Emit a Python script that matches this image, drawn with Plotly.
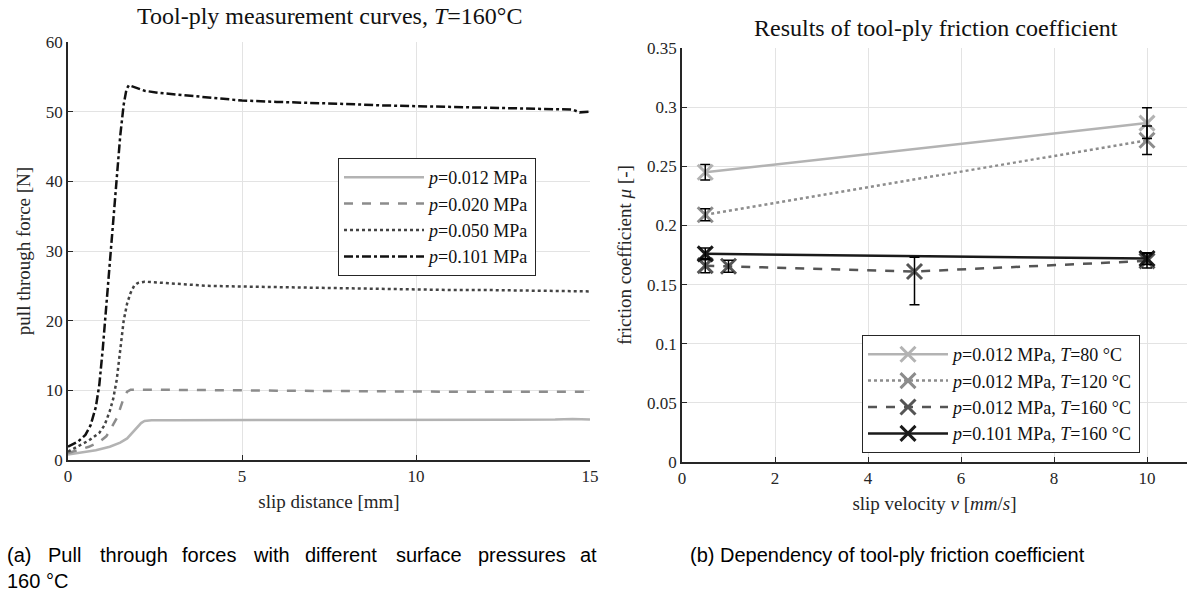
import plotly.graph_objects as go

W, H = 1187, 592

# ---------------- Left plot data: pull-through force vs slip distance ----------------
x_p012 = [0, 0.4, 0.8, 1.2, 1.5, 1.7, 1.85, 2.0, 2.1, 2.2, 2.4, 3, 4, 5, 6, 7, 8, 9, 10, 11, 12, 13, 14, 14.5, 15]
y_p012 = [0.8, 1.1, 1.4, 1.9, 2.5, 3.1, 3.9, 4.8, 5.3, 5.6, 5.7, 5.7, 5.75, 5.75, 5.75, 5.75, 5.75, 5.75, 5.75,
          5.75, 5.75, 5.75, 5.8, 5.9, 5.8]

x_p020 = [0, 0.3, 0.6, 0.9, 1.1, 1.2, 1.3, 1.4, 1.5, 1.6, 1.7, 1.8, 2, 3, 4, 5, 6, 7, 8, 9, 10, 11, 12, 13, 14, 15]
y_p020 = [1.0, 1.4, 1.9, 2.6, 3.4, 4.2, 5.0, 6.0, 7.4, 8.9, 9.8, 10.1, 10.1, 10.1, 10.0, 10.0, 9.95, 9.9, 9.9,
          9.85, 9.8, 9.8, 9.8, 9.75, 9.8, 9.8]

x_p050 = [0, 0.3, 0.6, 0.9, 1.05, 1.2, 1.3, 1.4, 1.5, 1.6, 1.7, 1.8, 1.9, 2.0, 2.2, 2.5, 3, 4, 5, 6, 7, 8, 9, 10,
          11, 12, 13, 14, 15]
y_p050 = [1.2, 2.0, 2.8, 3.9, 5.0, 7.0, 8.8, 11.5, 16, 20, 22.5, 24, 25, 25.4, 25.6, 25.5, 25.3, 25.0, 24.9, 24.8,
          24.7, 24.6, 24.5, 24.5, 24.4, 24.4, 24.3, 24.3, 24.2]

x_p101 = [0, 0.3, 0.5, 0.65, 0.8, 0.9, 1.0, 1.1, 1.2, 1.3, 1.4, 1.5, 1.6, 1.68, 1.75, 1.9, 2.2, 2.6, 3, 4, 5, 6,
          7, 8, 9, 10, 11, 12, 13, 14, 14.5, 14.7, 15]
y_p101 = [1.9, 2.7, 3.6, 5.0, 7.6, 10.8, 16, 22, 28.5, 35, 41, 46.5, 51, 53.2, 53.8, 53.5, 53.0, 52.7, 52.5,
          52.0, 51.6, 51.4, 51.3, 51.1, 50.9, 50.8, 50.7, 50.6, 50.5, 50.4, 50.3, 49.9, 50.0]

left_names = ["<i>p</i>=0.012 MPa", "<i>p</i>=0.020 MPa", "<i>p</i>=0.050 MPa", "<i>p</i>=0.101 MPa"]

# ---------------- Right plot data: friction coefficient vs slip velocity ----------------
v_s1 = [0.5, 10]
mu_s1 = [0.245, 0.2865]
errp_s1 = [0.0066, 0.013]
errm_s1 = [0.0066, 0.013]

v_s2 = [0.5, 10]
mu_s2 = [0.209, 0.272]
errp_s2 = [0.005, 0.012]
errm_s2 = [0.005, 0.012]

v_s3 = [0.5, 1, 5, 10]
mu_s3 = [0.166, 0.1655, 0.161, 0.170]
errp_s3 = [0.006, 0.005, 0.012, 0.006]
errm_s3 = [0.006, 0.005, 0.028, 0.006]

v_s4 = [0.5, 10]
mu_s4 = [0.176, 0.172]
errp_s4 = [0.005, 0.005]
errm_s4 = [0.005, 0.005]

right_names = ["<i>p</i>=0.012 MPa, <i>T</i>=80 °C", "<i>p</i>=0.012 MPa, <i>T</i>=120 °C",
               "<i>p</i>=0.012 MPa, <i>T</i>=160 °C", "<i>p</i>=0.101 MPa, <i>T</i>=160 °C"]

left_xticks = [0, 5, 10, 15]
left_yticks = [0, 10, 20, 30, 40, 50, 60]
right_xticks = [0, 2, 4, 6, 8, 10]
right_yticks = [0, 0.05, 0.1, 0.15, 0.2, 0.25, 0.3, 0.35]
right_yticktext = ["0", "0.05", "0.1", "0.15", "0.2", "0.25", "0.3", "0.35"]

caption_a_words = ["(a)", "Pull", "through", "forces", "with", "different", "surface", "pressures", "at"]
caption_a_x = [5, 46, 98, 180, 251, 303, 394, 476, 578]

SERIF = "Liberation Serif"
SANS = "Liberation Sans"
AX = "#262626"
GRID = "#e3e3e3"

fig = go.Figure()

left_styles = [("#b3b3b3", "solid"), ("#8c8c8c", "dash"), ("#444444", "dot"), ("#111111", "dashdot")]
for xs, ys, nm, (c, d) in zip([x_p012, x_p020, x_p050, x_p101], [y_p012, y_p020, y_p050, y_p101],
                              left_names, left_styles):
    fig.add_trace(go.Scatter(x=xs, y=ys, mode="lines", name=nm, line=dict(color=c, dash=d, width=2.5),
                             xaxis="x", yaxis="y", legend="legend"))

right_styles = [("#b3b3b3", "solid"), ("#8c8c8c", "dot"), ("#555555", "dash"), ("#1a1a1a", "solid")]
right_data = [(v_s1, mu_s1, errp_s1, errm_s1), (v_s2, mu_s2, errp_s2, errm_s2),
              (v_s3, mu_s3, errp_s3, errm_s3), (v_s4, mu_s4, errp_s4, errm_s4)]
for (vs, ms, ep, em), nm, (c, d) in zip(right_data, right_names, right_styles):
    fig.add_trace(go.Scatter(x=vs, y=ms, mode="lines+markers", name=nm,
                             line=dict(color=c, dash=d, width=2.5),
                             marker=dict(symbol="x-thin", size=15, line=dict(width=3, color=c), color=c),
                             xaxis="x2", yaxis="y2", legend="legend2"))
for (vs, ms, ep, em) in right_data:
    fig.add_trace(go.Scatter(x=vs, y=ms, mode="markers", showlegend=False, hoverinfo="skip",
                             marker=dict(size=1, color="rgba(0,0,0,0)"),
                             error_y=dict(type="data", symmetric=False, array=ep, arrayminus=em, visible=True,
                                          color="#000000", thickness=1.5, width=5),
                             xaxis="x2", yaxis="y2"))


def px_x(p):
    return p / W


def px_y(p):
    return 1 - p / H


axis_common = dict(showline=True, linecolor=AX, linewidth=1.5, mirror=False, ticks="inside", ticklen=5,
                   tickcolor=AX, tickwidth=1, showgrid=True, gridcolor=GRID, gridwidth=1, zeroline=False,
                   automargin=False,
                   tickfont=dict(family=SERIF, size=17, color="#262626"),
                   title_font=dict(family=SERIF, size=19, color="#262626"))

annotations = [
    dict(text="Tool-ply measurement curves, <i>T</i>=160°C", x=px_x(329), y=px_y(16), xref="paper",
         yref="paper", showarrow=False, xanchor="center", yanchor="middle",
         font=dict(family=SERIF, size=24, color="#111")),
    dict(text="Results of tool-ply friction coefficient", x=px_x(936), y=px_y(28), xref="paper",
         yref="paper", showarrow=False, xanchor="center", yanchor="middle",
         font=dict(family=SERIF, size=24, color="#111")),
    dict(text="160 °C", x=px_x(5), y=px_y(581), xref="paper", yref="paper", showarrow=False,
         xanchor="left", yanchor="middle", font=dict(family=SANS, size=20, color="#000")),
    dict(text="(b) Dependency of tool-ply friction coefficient", x=px_x(688), y=px_y(555),
         xref="paper", yref="paper", showarrow=False, xanchor="left", yanchor="middle",
         font=dict(family=SANS, size=20, color="#000")),
]
for wtxt, wx in zip(caption_a_words, caption_a_x):
    annotations.append(dict(text=wtxt, x=px_x(wx), y=px_y(555), xref="paper", yref="paper", showarrow=False,
                            xanchor="left", yanchor="middle", font=dict(family=SANS, size=20, color="#000")))

fig.update_layout(
    width=W, height=H, margin=dict(l=0, r=0, t=0, b=0, autoexpand=False),
    paper_bgcolor="white", plot_bgcolor="white", showlegend=True,
    xaxis=dict(domain=[px_x(68), px_x(590)], range=[0, 15], tickvals=left_xticks, anchor="y",
               title=dict(text="slip distance [mm]", standoff=10), **axis_common),
    yaxis=dict(domain=[px_y(460), px_y(42)], range=[0, 60], tickvals=left_yticks, anchor="x",
               title=dict(text="pull through force [N]", standoff=10), **axis_common),
    xaxis2=dict(domain=[px_x(682), 1.0], range=[0, 10.86], tickvals=right_xticks, anchor="y2",
                title=dict(text="slip velocity <i>v</i> [<i>mm</i>/<i>s</i>]", standoff=10), **axis_common),
    yaxis2=dict(domain=[px_y(462), px_y(48)], range=[0, 0.35], tickvals=right_yticks,
                ticktext=right_yticktext, anchor="x2",
                title=dict(text="friction coefficient <i>μ</i> [-]", standoff=10), **axis_common),
    legend=dict(x=px_x(338), y=px_y(158), xanchor="left", yanchor="top", bgcolor="white",
                bordercolor=AX, borderwidth=1, font=dict(family=SERIF, size=18, color="#111"),
                itemwidth=80, tracegroupgap=0),
    legend2=dict(x=px_x(862), y=px_y(335), xanchor="left", yanchor="top", bgcolor="white",
                 bordercolor=AX, borderwidth=1, font=dict(family=SERIF, size=18, color="#111"),
                 itemwidth=80, tracegroupgap=0),
    annotations=annotations,
)

fig.write_html("out.html", config={"displayModeBar": False},
               post_script="document.body.style.margin='0px';")
